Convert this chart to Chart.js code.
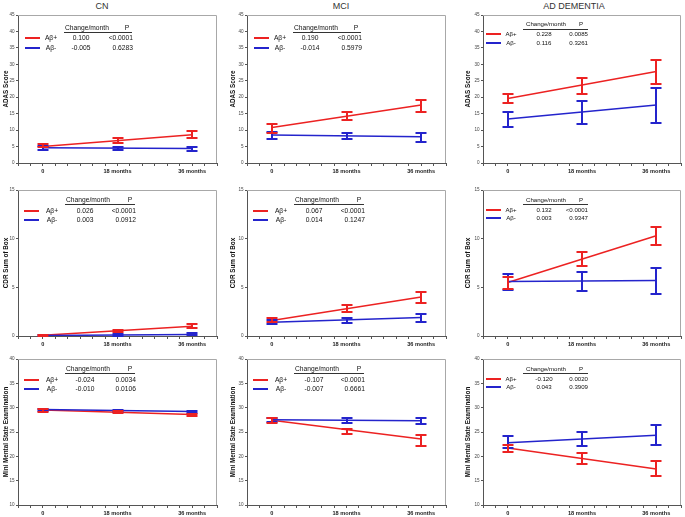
<!DOCTYPE html>
<html><head><meta charset="utf-8">
<script src="https://cdn.jsdelivr.net/npm/chart.js@4"></script>
<style>
html,body{margin:0;padding:0;background:#fff;}
body{width:685px;height:517px;position:relative;overflow:hidden;font-family:"Liberation Sans",Arial,sans-serif;}
.abs{position:absolute;white-space:nowrap;line-height:1;color:#111;}
canvas{position:absolute;}
</style></head><body>
<script>
// ---------- DATA ----------
const groups = ['CN', 'MCI', 'AD DEMENTIA'];
const measures = ['ADAS Score', 'CDR Sum of Box', 'Mini Mental State Examination'];
const seriesLabels = ['A\u03b2+', 'A\u03b2-'];
const months = [0, 18, 36];          // visits with error bars
const fitMonths = [0, 36];           // ends of the fitted lines
const xTickValues = [0, 18, 36];
const xTickLabels = ['0', '18 months', '36 months'];
const yAxisMin = [0, 0, 10];
const yAxisMax = [45, 15, 40];
const yAxisStep = [5, 5, 5];

// rows inside each array: CN, MCI, AD DEMENTIA
const adasPosFit = [[5.0, 8.6], [10.8, 17.6], [19.6, 27.8]];
const adasPosLo  = [[4.8, 6.0, 7.6], [9.2, 13.0, 15.5], [18.1, 21.0, 24.0]];
const adasPosHi  = [[5.7, 7.6, 9.7], [11.8, 15.5, 19.2], [21.0, 25.9, 31.4]];
const adasNegFit = [[4.6, 4.4], [8.5, 8.0], [13.4, 17.6]];
const adasNegLo  = [[4.0, 4.1, 3.8], [7.4, 7.2, 6.4], [10.9, 11.8, 12.1]];
const adasNegHi  = [[5.1, 4.8, 4.8], [9.4, 9.0, 9.2], [15.6, 18.9, 22.7]];

const cdrPosFit = [[0.08, 1.0], [1.6, 4.0], [5.5, 10.3]];
const cdrPosLo  = [[0.0, 0.38, 0.8], [1.45, 2.5, 3.4], [4.8, 7.2, 9.3]];
const cdrPosHi  = [[0.15, 0.62, 1.2], [1.8, 3.2, 4.55], [6.1, 8.6, 11.2]];
const cdrNegFit = [[0.05, 0.15], [1.4, 1.9], [5.6, 5.7]];
const cdrNegLo  = [[0.0, 0.05, 0.06], [1.2, 1.3, 1.45], [4.7, 4.6, 4.3]];
const cdrNegHi  = [[0.12, 0.2, 0.28], [1.65, 1.9, 2.3], [6.4, 6.6, 7.0]];

const mmsePosFit = [[29.5, 28.6], [27.4, 23.55], [21.7, 17.4]];
const mmsePosLo  = [[29.2, 28.9, 28.3], [26.8, 24.5, 22.2], [20.8, 18.5, 15.9]];
const mmsePosHi  = [[29.7, 29.4, 28.8], [27.8, 25.7, 24.3], [22.4, 20.7, 19.0]];
const mmseNegFit = [[29.6, 29.2], [27.5, 27.3], [22.8, 24.35]];
const mmseNegLo  = [[29.4, 29.1, 28.9], [27.0, 26.9, 26.55], [21.8, 22.1, 22.3]];
const mmseNegHi  = [[29.8, 29.6, 29.4], [27.9, 27.8, 27.9], [24.1, 25.1, 26.5]];

// stats tables: rows = measures, columns = groups
const changePos = [['0.100', '0.190', '0.228'], ['0.026', '0.067', '0.132'], ['-0.024', '-0.107', '-0.120']];
const changeNeg = [['-0.005', '-0.014', '0.116'], ['0.003', '0.014', '0.003'], ['-0.010', '-0.007', '0.043']];
const pPos = [['<0.0001', '<0.0001', '0.0085'], ['<0.0001', '<0.0001', '<0.0001'], ['0.0034', '<0.0001', '0.0020']];
const pNeg = [['0.6283', '0.5979', '0.3261'], ['0.0912', '0.1247', '0.9347'], ['0.0106', '0.6661', '0.3909']];

// ---------- STYLE / LAYOUT ----------
const RED = '#ec2222', BLUE = '#2424cc';
const FAMILY = '"Liberation Sans", Arial, sans-serif';
Chart.defaults.font.family = FAMILY;
const colLeft = [18, 247, 483], colRight = [217, 446, 681];
const rowTop = [15, 190, 359], rowBottom = [163, 336, 505];
const axisW = [18, 19, 19], titlePad = [2, 1, 0];
const PADT = 6, PADR = 6, AXH = 14;

const posFit = [adasPosFit, cdrPosFit, mmsePosFit], posLo = [adasPosLo, cdrPosLo, mmsePosLo], posHi = [adasPosHi, cdrPosHi, mmsePosHi];
const negFit = [adasNegFit, cdrNegFit, mmseNegFit], negLo = [adasNegLo, cdrNegLo, mmseNegLo], negHi = [adasNegHi, cdrNegHi, mmseNegHi];

function txt(x, y, s, size, align, color) {
  const d = document.createElement('div');
  d.className = 'abs'; d.textContent = s;
  d.style.left = x + 'px'; d.style.top = y + 'px'; d.style.fontSize = size + 'px';
  if (color) d.style.color = color;
  const tx = align === 'center' ? '-50%' : align === 'right' ? '-100%' : '0';
  d.style.transform = `translate(${tx},-50%)`;
  document.body.appendChild(d); return d;
}
function rect(x, y, w, h, color) {
  const d = document.createElement('div');
  d.style.cssText = `position:absolute;left:${x}px;top:${y}px;width:${w}px;height:${h}px;background:${color};`;
  document.body.appendChild(d);
}

const framePlugin = {
  id: 'frame',
  beforeDatasetsDraw(chart) {
    const a = chart.chartArea, ctx = chart.ctx;
    ctx.save(); ctx.strokeStyle = '#a8a8a8'; ctx.lineWidth = 1;
    ctx.beginPath();
    ctx.moveTo(a.left, a.top + 0.5); ctx.lineTo(a.right - 0.5, a.top + 0.5); ctx.lineTo(a.right - 0.5, a.bottom);
    ctx.stroke(); ctx.restore();
  }
};
function errorBarPlugin(bars) {
  return {
    id: 'errorBars',
    afterDatasetsDraw(chart) {
      const ctx = chart.ctx, xs = chart.scales.x, ys = chart.scales.y;
      ctx.save(); ctx.lineWidth = 2;
      bars.forEach(b => {
        ctx.strokeStyle = b.color;
        months.forEach((m, i) => {
          const x = Math.round(xs.getPixelForValue(m));
          const y1 = Math.round(ys.getPixelForValue(b.lo[i])), y2 = Math.round(ys.getPixelForValue(b.hi[i]));
          ctx.beginPath();
          ctx.moveTo(x, y1); ctx.lineTo(x, y2);
          ctx.moveTo(x - 5.5, y1); ctx.lineTo(x + 5.5, y1);
          ctx.moveTo(x - 5.5, y2); ctx.lineTo(x + 5.5, y2);
          ctx.stroke();
        });
      });
      ctx.restore();
    }
  };
}

function makePanel(r, c) {
  const L = colLeft[c], T = rowTop[r];
  const W = axisW[c] + (colRight[c] - colLeft[c]) + PADR;
  const H = PADT + (rowBottom[r] - rowTop[r]) + AXH;
  const cv = document.createElement('canvas');
  cv.width = W; cv.height = H;
  cv.style.left = (L - axisW[c]) + 'px'; cv.style.top = (T - PADT) + 'px';
  cv.style.width = W + 'px'; cv.style.height = H + 'px';
  document.body.appendChild(cv);
  const bars = [
    { color: BLUE, lo: negLo[r][c], hi: negHi[r][c] },
    { color: RED, lo: posLo[r][c], hi: posHi[r][c] }
  ];
  new Chart(cv, {
    type: 'line',
    data: {
      datasets: [
        { label: seriesLabels[1], data: fitMonths.map((x, i) => ({ x, y: negFit[r][c][i] })), borderColor: BLUE, borderWidth: 1.5, pointRadius: 0, tension: 0 },
        { label: seriesLabels[0], data: fitMonths.map((x, i) => ({ x, y: posFit[r][c][i] })), borderColor: RED, borderWidth: 1.5, pointRadius: 0, tension: 0 }
      ]
    },
    options: {
      responsive: false, animation: false, devicePixelRatio: 1,
      layout: { padding: { top: PADT, right: PADR, left: 0, bottom: 0 } },
      plugins: { legend: { display: false }, tooltip: { enabled: false } },
      scales: {
        x: {
          type: 'linear', min: -6, max: 42,
          afterFit: s => { s.height = AXH; },
          ticks: {
            stepSize: 3, autoSkip: false, maxRotation: 0, padding: 2,
            font: { size: 5.6, family: FAMILY, weight: 'bold' }, color: '#222',
            callback: v => { const i = xTickValues.indexOf(v); return i >= 0 ? xTickLabels[i] : ''; }
          },
          grid: { drawOnChartArea: false, drawTicks: true, tickLength: 3, color: '#555' },
          border: { color: '#555', width: 1 }
        },
        y: {
          type: 'linear', min: yAxisMin[r], max: yAxisMax[r],
          afterFit: s => { s.width = axisW[c]; },
          ticks: { stepSize: yAxisStep[r], font: { size: 4.6, family: FAMILY }, color: '#444', padding: 1.5 },
          grid: { drawOnChartArea: false, drawTicks: true, tickLength: 2, color: '#555' },
          border: { color: '#555', width: 1 },
          title: { display: true, text: measures[r], font: { size: 6.3, family: FAMILY, weight: 'bold' }, color: '#111', padding: { top: titlePad[c], bottom: 0 } }
        }
      }
    },
    plugins: [framePlugin, errorBarPlugin(bars)]
  });
}

function makeTable(r, c) {
  const L = colLeft[c], T = rowTop[r];
  let g;
  if (c < 2) {
    g = r === 0
      ? { fs: 6.7, hy: 13, uly: 17, r1: 23, r2: 33, hl: 47, pc: 109, u1: 46, u2: 114, l1: 7, l2: 22, lab: 33, val: 63, pr: 115 }
      : { fs: 6.7, hy: 10, uly: 14, r1: 21, r2: 30, hl: 48, pc: 112, u1: 47, u2: 117, l1: 6, l2: 21, lab: 34, val: 67, pr: 118 };
  } else {
    g = { fs: 6.1, hy: r === 0 ? 9 : 10, uly: 14, r1: r === 0 ? 19 : 20, r2: r === 0 ? 27.5 : 28, hl: 43, pc: 98, u1: 40, u2: 105, l1: 3, l2: 18, lab: 28, val: 61, pr: 105 };
  }
  txt(L + g.hl, T + g.hy, 'Change/month', g.fs, 'left');
  txt(L + g.pc, T + g.hy, 'P', g.fs, 'center');
  rect(L + g.u1, T + g.uly, g.u2 - g.u1, 1, '#333');
  rect(L + g.l1, Math.round(T + g.r1 - 1), g.l2 - g.l1, 2, RED);
  txt(L + g.lab, T + g.r1, seriesLabels[0], g.fs, 'center');
  txt(L + g.val, T + g.r1, changePos[r][c], g.fs, 'center');
  txt(L + g.pr, T + g.r1, pPos[r][c], g.fs, 'right');
  rect(L + g.l1, Math.round(T + g.r2 - 1), g.l2 - g.l1, 2, BLUE);
  txt(L + g.lab, T + g.r2, seriesLabels[1], g.fs, 'center');
  txt(L + g.val, T + g.r2, changeNeg[r][c], g.fs, 'center');
  txt(L + g.pr, T + g.r2, pNeg[r][c], g.fs, 'right');
}

const titleX = [102, 341, 574];
groups.forEach((gname, c) => txt(titleX[c], 6, gname, 9, 'center', '#333'));
for (let r = 0; r < 3; r++) for (let c = 0; c < 3; c++) { makePanel(r, c); makeTable(r, c); }
</script>
</body></html>
